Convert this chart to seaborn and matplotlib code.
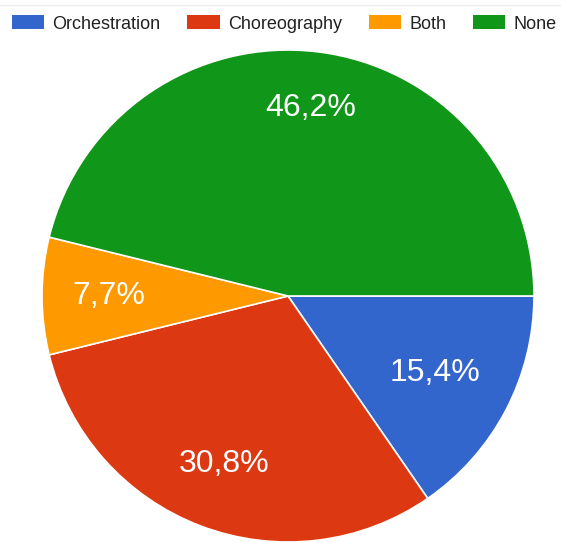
import numpy as np
import matplotlib
matplotlib.use("Agg")
import matplotlib.pyplot as plt
import seaborn as sns
from matplotlib.patches import Patch

# Survey answers: which composition style is used
categories = ["Orchestration", "Choreography", "Both", "None"]
counts = [2, 4, 1, 6]
pct_labels = ["15,4%", "30,8%", "7,7%", "46,2%"]

sns.set_theme(style="white")
plt.rcParams["font.family"] = ["Liberation Sans", "DejaVu Sans"]

colors = ["#3366cc", "#dc3912", "#ff9900", "#109618"]
label_radius = [0.675, 0.73, 0.73, 0.77]

fig = plt.figure(figsize=(5.61, 5.42), dpi=100)
W, H = 561, 542
cx, cy, r = 288, 296, 246
ax = fig.add_axes([(cx - r) / W, (H - cy - r) / H, 2 * r / W, 2 * r / H])

wedges, _ = ax.pie(
    counts,
    colors=colors,
    startangle=0,
    counterclock=False,
    radius=1.0,
    wedgeprops=dict(edgecolor="white", linewidth=1.2),
)
for w, lab, rad in zip(wedges, pct_labels, label_radius):
    mid = np.deg2rad((w.theta1 + w.theta2) / 2)
    ax.text(rad * np.cos(mid), rad * np.sin(mid), lab, color="white",
            fontsize=23, ha="center", va="center")
ax.set_xlim(-1, 1)
ax.set_ylim(-1, 1)
ax.set_aspect("equal")
ax.axis("off")

# Thin separator above the legend
fig.add_artist(plt.Line2D([0, 1], [1 - 5 / H, 1 - 5 / H], color="#ececec",
                          linewidth=1, transform=fig.transFigure))

handles = [Patch(facecolor=c, edgecolor="none") for c in colors]
fig.legend(
    handles, categories,
    loc="center left", bbox_to_anchor=(12 / W, 1 - 24 / H),
    ncol=4, frameon=False, fontsize=13,
    handlelength=1.78, handleheight=0.78, handletextpad=0.45,
    columnspacing=1.5, borderpad=0, borderaxespad=0,
    labelcolor="#222222",
)

fig.savefig("out.png", dpi=100)
